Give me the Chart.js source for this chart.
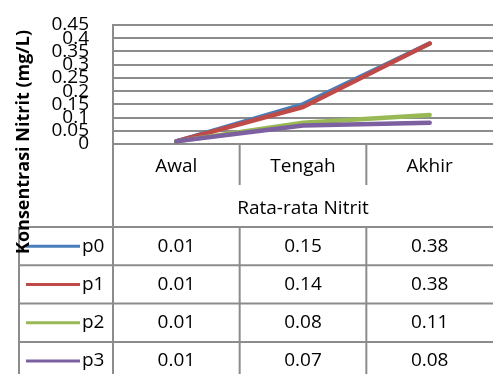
<!DOCTYPE html>
<html>
<head>
<meta charset="utf-8">
<script src="https://cdn.jsdelivr.net/npm/chart.js@4/dist/chart.umd.min.js"></script>
<style>
  html, body { margin: 0; padding: 0; background: #ffffff; }
  #wrap { width: 493px; height: 374px; position: relative; }
</style>
</head>
<body>
<div id="wrap"><canvas id="chart" width="493" height="374"></canvas></div>
<script>
// Average nitrite concentration per sampling stage
const categories = ['Awal', 'Tengah', 'Akhir'];
const seriesNames = ['p0', 'p1', 'p2', 'p3'];
const p0 = [0.01, 0.15, 0.38];
const p1 = [0.01, 0.14, 0.38];
const p2 = [0.01, 0.08, 0.11];
const p3 = [0.01, 0.07, 0.08];
const yTickLabels = ['0', '0.05', '0.1', '0.15', '0.2', '0.25', '0.3', '0.35', '0.4', '0.45'];
const tableTitle = 'Rata-rata Nitrit';
const yTitle = 'Konsentrasi Nitrit (mg/L)';

const seriesValues = [p0, p1, p2, p3];
const seriesColors = ['#4a7ebb', '#be4b48', '#98b954', '#7d60a0'];
const gridColor = '#8c8c8c';
const textFont = '"Open Sans", sans-serif';

// Data table under the plot, aligned to the category scale
const dataTable = {
  id: 'dataTable',
  afterDraw(chart) {
    const ctx = chart.ctx;
    const area = chart.chartArea;
    const xs = chart.scales.x;
    const n = categories.length;
    const colW = (area.right - area.left) / n;
    const top = area.bottom;
    const catRowBottom = top + 41;
    const headBottom = top + 83;
    const rowH = 38.3;
    const tableLeft = 19;
    const H = chart.height;

    ctx.save();
    ctx.strokeStyle = gridColor;
    ctx.lineWidth = 2;

    const line = (x1, y1, x2, y2) => {
      ctx.beginPath();
      ctx.moveTo(x1, y1);
      ctx.lineTo(x2, y2);
      ctx.stroke();
    };

    // left edge of the category block, running down the whole table
    line(area.left, area.top, area.left, H + 2);
    // dividers between category headers
    for (let i = 1; i < n; i++) {
      const x = area.left + i * colW;
      line(x, top, x, catRowBottom);
    }
    // body grid
    for (let r = 0; r <= seriesNames.length; r++) {
      const y = headBottom + r * rowH;
      line(tableLeft, y, area.right + 2, y);
    }
    line(tableLeft, headBottom, tableLeft, H + 2);
    for (let i = 1; i < n; i++) {
      const x = area.left + i * colW;
      line(x, headBottom, x, H + 2);
    }

    ctx.fillStyle = '#000';
    ctx.textAlign = 'center';
    ctx.textBaseline = 'middle';
    ctx.font = '19px ' + textFont;

    categories.forEach((c, i) => {
      ctx.fillText(c, xs.getPixelForValue(i), top + 23);
    });
    ctx.fillText(tableTitle, (area.left + area.right) / 2, top + 65);

    seriesNames.forEach((name, r) => {
      const cy = headBottom + r * rowH + rowH / 2;
      // legend key
      ctx.strokeStyle = seriesColors[r];
      ctx.lineWidth = 3;
      line(26, cy, 80, cy);
      ctx.textAlign = 'left';
      ctx.fillText(name, 82, cy);
      ctx.textAlign = 'center';
      seriesValues[r].forEach((v, i) => {
        ctx.fillText(v.toFixed(2), xs.getPixelForValue(i), cy);
      });
    });

    // vertical axis title
    ctx.translate(23.5, 142);
    ctx.rotate(-Math.PI / 2);
    ctx.font = 'bold 18px ' + textFont;
    ctx.fillText(yTitle, 0, 0);
    ctx.restore();
  }
};

new Chart(document.getElementById('chart'), {
  type: 'line',
  data: {
    labels: categories,
    datasets: seriesNames.map((name, i) => ({
      label: name,
      data: seriesValues[i],
      borderColor: seriesColors[i],
      backgroundColor: seriesColors[i],
      borderWidth: 4.5,
      borderCapStyle: 'round',
      borderJoinStyle: 'round',
      pointRadius: 0,
      tension: 0,
      order: seriesNames.length - i
    }))
  },
  options: {
    responsive: false,
    maintainAspectRatio: false,
    animation: false,
    devicePixelRatio: 1,
    layout: { padding: { top: 25, right: 0, bottom: 230, left: 0 } },
    plugins: {
      legend: { display: false },
      tooltip: { enabled: false },
      title: { display: false }
    },
    scales: {
      x: {
        display: false,
        offset: true
      },
      y: {
        min: 0,
        max: 0.45,
        afterFit(scale) {
          scale.width = 113;
          scale.paddingTop = 0;
          scale.paddingBottom = 0;
        },
        afterBuildTicks(scale) {
          scale.ticks = yTickLabels.map(t => ({ value: parseFloat(t) }));
        },
        ticks: {
          autoSkip: false,
          padding: 24,
          color: '#000',
          font: { family: '"Open Sans", sans-serif', size: 19 },
          callback: (v, i) => yTickLabels[i]
        },
        grid: {
          color: gridColor,
          lineWidth: 2,
          drawTicks: false
        },
        border: { display: true, color: gridColor, width: 2 }
      }
    }
  },
  plugins: [dataTable]
});
</script>
</body>
</html>
